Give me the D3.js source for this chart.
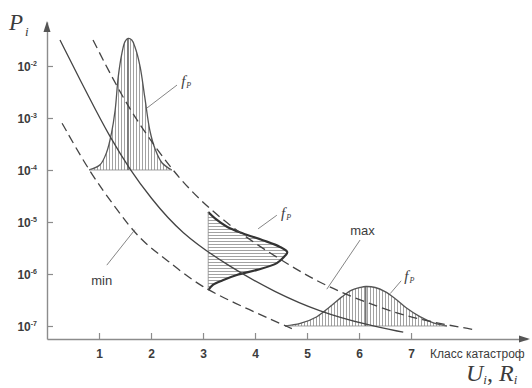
<!DOCTYPE html>
<html>
<head>
<meta charset="utf-8">
<script src="https://cdn.jsdelivr.net/npm/d3@7"></script>
<style>
  body { margin: 0; background: #fff; }
  svg { display: block; }
</style>
</head>
<body>
<script>
var width = 532;
var height = 388;

// axis ticks
var xTicks = [1, 2, 3, 4, 5, 6, 7];
var yTicks = [1e-2, 1e-3, 1e-4, 1e-5, 1e-6, 1e-7];

// central curve (class U, probability P)
var solidU = [0.25, 0.83, 1.21, 1.60, 1.98, 2.56, 3.52, 4.38, 5.25, 6.15, 6.85];
var solidP = [3.16e-2, 2.24e-3, 4.27e-4, 1.0e-4, 3.02e-5, 6.17e-6, 1.35e-6, 4.47e-7, 1.86e-7, 1.05e-7, 7.59e-8];

// upper bound "max"
var maxU = [0.885, 1.50, 2.115, 2.69, 3.52, 4.615, 5.385, 6.40, 7.17, 8.27];
var maxP = [3.16e-2, 1.95e-3, 2.43e-4, 4.47e-5, 7.94e-6, 1.55e-6, 5.62e-7, 2.24e-7, 1.30e-7, 8.32e-8];

// lower bound "min"
var minU = [0.29, 0.83, 1.35, 1.79, 2.31, 2.94, 3.90, 4.77];
var minP = [7.94e-4, 8.71e-5, 1.70e-5, 4.47e-6, 1.86e-6, 5.62e-7, 2.04e-7, 8.32e-8];

// f_P density #1 (vertical hatching, base at 1e-4)
var dens1U = [0.81, 1.02, 1.15, 1.24, 1.31, 1.37, 1.44, 1.50, 1.56, 1.63, 1.69, 1.79, 1.88, 1.98, 2.08, 2.21, 2.40];
var dens1P = [1.0e-4, 1.26e-4, 2.24e-4, 5.13e-4, 1.41e-3, 6.17e-3, 1.74e-2, 2.95e-2, 3.39e-2, 3.16e-2, 2.34e-2, 9.77e-3, 2.51e-3, 5.62e-4, 2.51e-4, 1.38e-4, 1.0e-4];
var dens1Peak = [1.56, 3.39e-2];

// f_P density #2 (horizontal hatching, base at U = 3.1)
var dens2U = [3.10, 3.23, 3.46, 3.77, 4.15, 4.48, 4.62, 4.56, 4.42, 4.04, 3.65, 3.38, 3.19, 3.10];
var dens2P = [1.55e-5, 1.17e-5, 8.13e-6, 6.03e-6, 4.47e-6, 3.31e-6, 2.63e-6, 2.14e-6, 1.62e-6, 1.20e-6, 9.55e-7, 7.59e-7, 6.17e-7, 4.90e-7];

// f_P density #3 (vertical hatching, base at 1e-7)
var dens3U = [4.58, 4.87, 5.19, 5.44, 5.67, 5.86, 6.02, 6.13, 6.31, 6.50, 6.69, 6.92, 7.17, 7.43, 7.69];
var dens3P = [1.0e-7, 1.12e-7, 1.51e-7, 2.34e-7, 3.63e-7, 4.90e-7, 5.50e-7, 5.75e-7, 5.50e-7, 4.57e-7, 3.39e-7, 2.19e-7, 1.51e-7, 1.15e-7, 1.0e-7];
var dens3Peak = [6.13, 5.75e-7];

// annotation leaders: [u1, p1, u2, p2]
var leaders = [
  [1.92, 1.55e-3, 2.50, 4.3e-3],
  [4.06, 7.4e-6, 4.42, 1.35e-5],
  [5.38, 5.1e-7, 6.02, 4.5e-6],
  [6.60, 4.2e-7, 6.81, 7.4e-7],
  [1.15, 1.48e-6, 1.69, 7.1e-6]
];
var fpLabels = [[2.58, 4.1e-3], [4.50, 1.2e-5], [6.87, 7.4e-7]];
var wordLabels = [["max", 5.83, 5.6e-6], ["min", 0.85, 6.2e-7]];

var zip = function(a, b) { return a.map(function(v, i) { return [v, b[i]]; }); };

var svg = d3.select("body").append("svg")
    .attr("width", width)
    .attr("height", height);

var x = d3.scaleLinear().domain([0, 9.23]).range([47, 527]);
var y = d3.scaleLog().domain([Math.pow(10, -7.25), Math.pow(10, -1.154)]).range([339, 22]);

var defs = svg.append("defs");
defs.append("pattern")
    .attr("id", "vhatch")
    .attr("patternUnits", "userSpaceOnUse")
    .attr("width", 3).attr("height", 10)
  .append("line")
    .attr("x1", 1.5).attr("x2", 1.5).attr("y1", 0).attr("y2", 10)
    .attr("stroke", "#7a7a7a").attr("stroke-width", 0.7);
defs.append("pattern")
    .attr("id", "hhatch")
    .attr("patternUnits", "userSpaceOnUse")
    .attr("width", 10).attr("height", 3)
  .append("line")
    .attr("x1", 0).attr("x2", 10).attr("y1", 1.5).attr("y2", 1.5)
    .attr("stroke", "#7a7a7a").attr("stroke-width", 0.7);

// densities follow the points, the bound curves get smoothed
var line = d3.line()
    .x(function(d) { return x(d[0]); })
    .y(function(d) { return y(d[1]); })
    .curve(d3.curveCatmullRom.alpha(0.5));
var smooth = d3.line()
    .x(function(d) { return x(d[0]); })
    .y(function(d) { return y(d[1]); })
    .curve(d3.curveBasis);

var axisColor = "#8c8c8c";
var inkColor = "#3c3c3c";

// x axis
var xAxis = svg.append("g")
    .attr("transform", "translate(0,339)")
    .call(d3.axisBottom(x).tickValues(xTicks).tickSizeInner(-6).tickSizeOuter(0).tickPadding(10.5));
// y axis
var yAxis = svg.append("g")
    .attr("transform", "translate(47,0)")
    .call(d3.axisLeft(y).tickValues(yTicks).tickSizeInner(-6).tickSizeOuter(0).tickPadding(10).tickFormat(""));

[xAxis, yAxis].forEach(function(g) {
  g.select(".domain").attr("stroke", axisColor).attr("stroke-width", 1.4);
  g.selectAll(".tick line").attr("stroke", axisColor).attr("stroke-width", 1.2);
  g.selectAll(".tick text")
      .attr("fill", inkColor)
      .attr("font-family", "Liberation Sans, Arial, sans-serif")
      .attr("font-size", 12)
      .attr("font-weight", "bold");
});

yAxis.selectAll(".tick text")
    .attr("dy", "0.4em")
    .each(function(d) {
      var t = d3.select(this);
      t.append("tspan").text("10");
      t.append("tspan")
          .attr("font-size", 7)
          .attr("dy", -5)
          .text(String(Math.round(Math.log10(d))));
    });

// arrows
svg.append("path")
    .attr("d", d3.line()([[43.5, 32], [47, 21], [50.5, 32]]) + "Z")
    .attr("fill", "#555");
svg.append("path")
    .attr("d", d3.line()([[519, 335.5], [530, 339], [519, 342.5]]) + "Z")
    .attr("fill", "#555");

// densities
function drawDensity(pts, pattern, strokeW, strokeC) {
  svg.append("path")
      .attr("d", line(pts) + "Z")
      .attr("fill", "url(#" + pattern + ")")
      .attr("stroke", "none");
  svg.append("path")
      .attr("d", line(pts))
      .attr("fill", "none")
      .attr("stroke", strokeC)
      .attr("stroke-width", strokeW);
  var a = pts[0], b = pts[pts.length - 1];
  svg.append("line")
      .attr("x1", x(a[0])).attr("y1", y(a[1]))
      .attr("x2", x(b[0])).attr("y2", y(b[1]))
      .attr("stroke", "#888").attr("stroke-width", 0.8);
}
drawDensity(zip(dens1U, dens1P), "vhatch", 1.3, "#555");
drawDensity(zip(dens2U, dens2P), "hhatch", 2.2, "#333");
drawDensity(zip(dens3U, dens3P), "vhatch", 1.3, "#555");

[[dens1Peak, 1e-4], [dens3Peak, 1e-7]].forEach(function(p) {
  svg.append("line")
      .attr("x1", x(p[0][0])).attr("x2", x(p[0][0]))
      .attr("y1", y(p[1])).attr("y2", y(p[0][1]))
      .attr("stroke", "#555").attr("stroke-width", 1.2);
});

// curves
svg.append("path")
    .attr("d", smooth(zip(solidU, solidP)))
    .attr("fill", "none").attr("stroke", "#444").attr("stroke-width", 1.3);
svg.append("path")
    .attr("d", smooth(zip(maxU, maxP)))
    .attr("fill", "none").attr("stroke", "#444").attr("stroke-width", 1.3)
    .attr("stroke-dasharray", "9,5");
svg.append("path")
    .attr("d", smooth(zip(minU, minP)))
    .attr("fill", "none").attr("stroke", "#444").attr("stroke-width", 1.3)
    .attr("stroke-dasharray", "9,5");

// leaders and labels
svg.selectAll(".leader").data(leaders).enter().append("line")
    .attr("class", "leader")
    .attr("x1", function(d) { return x(d[0]); })
    .attr("y1", function(d) { return y(d[1]); })
    .attr("x2", function(d) { return x(d[2]); })
    .attr("y2", function(d) { return y(d[3]); })
    .attr("stroke", "#777").attr("stroke-width", 0.9);

svg.selectAll(".fp").data(fpLabels).enter().append("text")
    .attr("class", "fp")
    .attr("x", function(d) { return x(d[0]); })
    .attr("y", function(d) { return y(d[1]); })
    .attr("font-family", "Liberation Serif, Times New Roman, serif")
    .attr("font-style", "italic")
    .attr("font-size", 15)
    .attr("fill", inkColor)
    .each(function() {
      var t = d3.select(this);
      t.append("tspan").text("f");
      t.append("tspan").attr("font-size", 8).attr("dy", 2).attr("dx", 1).text("P");
    });

svg.selectAll(".word").data(wordLabels).enter().append("text")
    .attr("class", "word")
    .attr("x", function(d) { return x(d[1]); })
    .attr("y", function(d) { return y(d[2]); })
    .attr("font-family", "Liberation Sans, Arial, sans-serif")
    .attr("font-size", 13)
    .attr("fill", inkColor)
    .text(function(d) { return d[0]; });

// axis titles
var pTitle = svg.append("text")
    .attr("x", 9).attr("y", 30)
    .attr("font-family", "Liberation Serif, Times New Roman, serif")
    .attr("font-style", "italic")
    .attr("fill", inkColor);
pTitle.append("tspan").attr("font-size", 23).text("P");
pTitle.append("tspan").attr("font-size", 13).attr("dy", 6).attr("dx", 2).text("i");

svg.append("text")
    .attr("x", 430).attr("y", 358)
    .attr("font-family", "Liberation Sans, Arial, sans-serif")
    .attr("font-size", 12)
    .attr("fill", inkColor)
    .text("Класс катастроф");

var uTitle = svg.append("text")
    .attr("x", 466).attr("y", 381)
    .attr("font-family", "Liberation Serif, Times New Roman, serif")
    .attr("font-style", "italic")
    .attr("fill", inkColor);
uTitle.append("tspan").attr("font-size", 24).text("U");
uTitle.append("tspan").attr("font-size", 13).attr("dy", 3).text("i");
uTitle.append("tspan").attr("font-size", 24).attr("dy", -3).attr("font-style", "normal").text(", ");
uTitle.append("tspan").attr("font-size", 24).text("R");
uTitle.append("tspan").attr("font-size", 13).attr("dy", 3).text("i");
</script>
</body>
</html>
